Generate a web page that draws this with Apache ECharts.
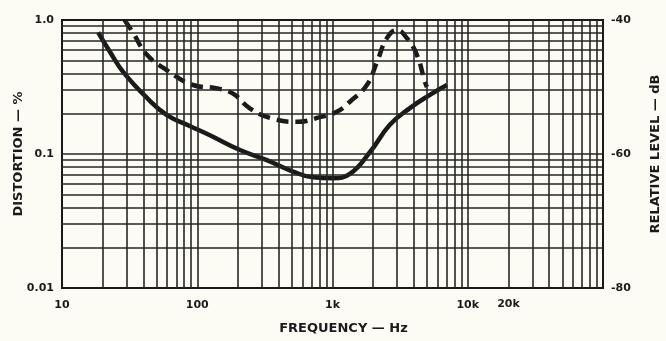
<!DOCTYPE html>
<html>
<head>
<meta charset="utf-8">
<script src="https://cdn.jsdelivr.net/npm/echarts@6/dist/echarts.min.js"></script>
<style>
  html, body { margin: 0; padding: 0; background: #fcfcf5; }
  #chart { width: 666px; height: 341px; }
</style>
</head>
<body>
<div id="chart"></div>
<script>
// distortion curve (solid)
const freqSolid = [18.5, 22.6, 28.3, 42.5, 59.7, 88, 124, 207, 327, 510, 716, 1007, 1345, 1888, 2654, 3733, 5248, 7015];
const distSolid = [0.81, 0.58, 0.41, 0.262, 0.195, 0.162, 0.138, 0.107, 0.09, 0.074, 0.067, 0.066, 0.071, 0.103, 0.165, 0.22, 0.276, 0.327];

// relative level curve (dashed), dB
const freqDashed = [29, 33.5, 42.5, 59.7, 93, 140, 184, 245, 344, 545, 807, 1076, 1345, 1795, 2128, 2525, 2992, 3548, 4207, 4820, 4990];
const levelDashed = [-40, -41.9, -45.2, -47.5, -49.7, -50.2, -51.0, -53.2, -54.6, -55.2, -54.5, -53.7, -52.2, -49.7, -46.3, -42.7, -41.5, -42.7, -45.2, -49.2, -50];

const xTickValues = [10, 100, 1000, 10000, 20000];
const xTickLabels = ['10', '100', '1k', '10k', '20k'];
const yTickValues = [0.01, 0.1, 1];
const yTickLabels = ['0.01', '0.1', '1.0'];

const ink = '#1a1a1a';
const gridInk = '#262626';
const font = 'DejaVu Sans';

function findLabel(values, labels, v) {
  for (let i = 0; i < values.length; i++) {
    if (Math.abs(Math.log10(v) - Math.log10(values[i])) < 1e-6) return labels[i];
  }
  return '';
}

// grid lines at 1..9 of every decade
const vLines = [];
for (let d = 10; d < 100000; d *= 10) {
  for (let k = 1; k <= 9; k++) {
    const v = k * d;
    if (v > 10) {
      const lab = (v === 20000) ? findLabel(xTickValues, xTickLabels, v) : '';
      vLines.push({
        xAxis: v,
        label: { show: !!lab, formatter: lab, position: 'start', distance: 11,
          color: ink, fontFamily: font, fontSize: 11, fontWeight: 'bold' }
      });
    }
  }
}
const hLines = [];
[0.01, 0.1].forEach((d) => {
  for (let k = 1; k <= 9; k++) {
    const v = k * d;
    if (v > 0.0100001) hLines.push({ yAxis: v });
  }
});

const chart = echarts.init(document.getElementById('chart'));
chart.setOption({
  backgroundColor: '#fcfcf5',
  animation: false,
  grid: { left: 62, right: 63, top: 20, bottom: 53, show: true, outerBoundsMode: 'none',
    borderColor: ink, borderWidth: 2, backgroundColor: 'transparent' },
  xAxis: {
    type: 'log', logBase: 10, min: 10, max: 100000,
    name: 'FREQUENCY — Hz', nameLocation: 'middle', nameGap: 34, nameMoveOverlap: false,
    nameTextStyle: { color: ink, fontFamily: font, fontSize: 13, fontWeight: 'bold', padding: [0, 0, 0, 22] },
    axisLine: { show: false }, axisTick: { show: false }, splitLine: { show: false },
    axisLabel: { color: ink, fontFamily: font, fontSize: 11, fontWeight: 'bold', margin: 12,
      formatter: (v) => findLabel(xTickValues, xTickLabels, v) }
  },
  yAxis: [
    {
      type: 'log', logBase: 10, min: 0.01, max: 1,
      name: 'DISTORTION — %', nameLocation: 'middle', nameGap: 37, nameRotate: 90, nameMoveOverlap: false,
      nameTextStyle: { color: ink, fontFamily: font, fontSize: 13, fontWeight: 'bold' },
      axisLine: { show: false }, axisTick: { show: false }, splitLine: { show: false },
      axisLabel: { color: ink, fontFamily: font, fontSize: 11, fontWeight: 'bold', margin: 8,
        formatter: (v) => findLabel(yTickValues, yTickLabels, v) }
    },
    {
      type: 'value', position: 'right', min: -80, max: -40, interval: 20,
      name: 'RELATIVE LEVEL — dB', nameLocation: 'middle', nameGap: 46, nameRotate: 90, nameMoveOverlap: false,
      nameTextStyle: { color: ink, fontFamily: font, fontSize: 13, fontWeight: 'bold' },
      axisLine: { show: false }, axisTick: { show: false }, splitLine: { show: false },
      axisLabel: { color: ink, fontFamily: font, fontSize: 11, fontWeight: 'bold', margin: 8 }
    }
  ],
  series: [
    {
      type: 'line', name: 'grid', xAxisIndex: 0, yAxisIndex: 0, data: [], z: 1, silent: true,
      markLine: {
        silent: true, symbol: 'none', animation: false,
        label: { show: false },
        lineStyle: { type: 'solid', color: gridInk, width: 1.6 },
        data: vLines.concat(hLines)
      }
    },
    {
      type: 'line', name: 'distortion', xAxisIndex: 0, yAxisIndex: 0, z: 3,
      data: freqSolid.map((f, i) => [f, distSolid[i]]),
      showSymbol: false, smooth: 0.45,
      lineStyle: { color: ink, width: 4.5 }
    },
    {
      type: 'line', name: 'level', xAxisIndex: 0, yAxisIndex: 1, z: 3,
      data: freqDashed.map((f, i) => [f, levelDashed[i]]),
      showSymbol: false, smooth: 0.45,
      lineStyle: { color: ink, width: 4.5, type: [12, 7] }
    }
  ]
});
</script>
</body>
</html>
